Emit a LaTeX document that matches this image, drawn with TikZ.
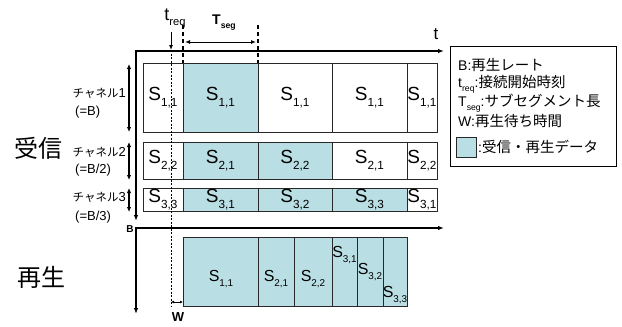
\documentclass[tikz,border=0pt]{standalone}
\usepackage{fontspec}
\usepackage{graphicx}
\setmainfont{Liberation Sans}
\newfontfamily\jp{Noto Sans CJK JP}
\usetikzlibrary{arrows.meta}
\definecolor{cellblue}{RGB}{185,222,228}
\definecolor{celledge}{RGB}{40,40,40}
\newcommand{\Ss}[1]{S\raisebox{-0.3em}{\scalebox{0.62}{#1}}}
\newcommand{\subx}[1]{\raisebox{-0.3em}{\scalebox{0.62}{#1}}}
\newcommand{\mkcell}[7]{\node[#1, minimum width={(#4-#3)*1pt}, minimum height={(#6-#5)*1pt}] (#2) at ({(#3+#4)/2},{(#5+#6)/2}) {#7};}
\newcommand{\kata}[1]{{\jp\fontsize{11.5}{12}\selectfont #1}}
\begin{document}
\begin{tikzpicture}[x=1pt,y=-1pt,
  wcell/.style={draw=celledge, line width=0.9pt, fill=white, inner sep=0pt, font=\fontsize{19}{19}\selectfont},
  bcell/.style={wcell, fill=cellblue},
  pcell/.style={draw=celledge, line width=0.9pt, fill=cellblue, inner sep=0pt},
  ptxt/.style={inner sep=0pt, font=\fontsize{16}{16}\selectfont},
  axis/.style={line width=1.5pt, -{Latex[length=6pt,width=4.5pt]}},
  chan/.style={line width=1.2pt, {Latex[length=5pt,width=4.5pt]}-{Latex[length=5pt,width=4.5pt]}},
  chtxt/.style={inner sep=0pt, font=\fontsize{13}{13}\selectfont},
  legtxt/.style={inner sep=0pt, anchor=west, font=\fontsize{14}{14}\selectfont},
]
\useasboundingbox (0,0) rectangle (622,327);

% axes
\coordinate (o1) at (136,51);
\coordinate (t1) at (444,51);
\coordinate (d1) at (136,221);
\coordinate (o2) at (136,228);
\coordinate (t2) at (444,228);
\coordinate (d2) at (136,314);
\draw[axis] (o1) -- (t1);
\draw[axis] ([yshift=0.75pt]o1) -- (d1);
\draw[axis] (o2) -- (t2);
\draw[axis] ([yshift=0.75pt]o2) -- (d2);
\node[inner sep=0pt, font=\fontsize{17}{17}\selectfont] (tlab) at (436,34) {t};
\node[inner sep=0pt, font=\bfseries\fontsize{10}{10}\selectfont] (blab) at (130,229) {B};

% row 1
\mkcell{wcell}{a1}{143}{183}{63}{132}{\Ss{1,1}}
\mkcell{bcell}{a2}{183}{258}{63}{132}{\Ss{1,1}}
\mkcell{wcell}{a3}{258}{332}{63}{132}{\Ss{1,1}}
\mkcell{wcell}{a4}{332}{407}{63}{132}{\Ss{1,1}}
\mkcell{wcell}{a5}{407}{437}{63}{132}{\Ss{1,1}}
% row 2
\mkcell{wcell}{b1}{143}{183}{142}{179}{\Ss{2,2}}
\mkcell{bcell}{b2}{183}{258}{142}{179}{\Ss{2,1}}
\mkcell{bcell}{b3}{258}{332}{142}{179}{\Ss{2,2}}
\mkcell{wcell}{b4}{332}{407}{142}{179}{\Ss{2,1}}
\mkcell{wcell}{b5}{407}{437}{142}{179}{\Ss{2,2}}
% row 3
\mkcell{wcell}{c1}{143}{183}{188}{211}{\Ss{3,3}}
\mkcell{bcell}{c2}{183}{258}{188}{211}{\Ss{3,1}}
\mkcell{bcell}{c3}{258}{332}{188}{211}{\Ss{3,2}}
\mkcell{bcell}{c4}{332}{407}{188}{211}{\Ss{3,3}}
\mkcell{wcell}{c5}{407}{437}{188}{211}{\Ss{3,1}}
% playback
\mkcell{pcell}{p1}{183}{258}{237}{306}{}
\mkcell{pcell}{p2}{258}{294}{237}{306}{}
\mkcell{pcell}{p3}{294}{332}{237}{306}{}
\mkcell{pcell}{p4}{332}{357}{237}{306}{}
\mkcell{pcell}{p5}{357}{383}{237}{306}{}
\mkcell{pcell}{p6}{383}{407}{237}{306}{}
\node[ptxt] (q1) at (221,279) {\Ss{1,1}};
\node[ptxt] (q2) at (276,279) {\Ss{2,1}};
\node[ptxt] (q3) at (313,279) {\Ss{2,2}};
\node[ptxt] (q4) at (344.5,255) {\Ss{3,1}};
\node[ptxt] (q5) at (370,272) {\Ss{3,2}};
\node[ptxt] (q6) at (395,295) {\Ss{3,3}};

% t_req
\node[inner sep=0pt, anchor=south, font=\fontsize{18}{18}\selectfont] (treq) at (175,28) {t\subx{req}};
\coordinate (treqtop) at (171,32);
\coordinate (treqax) at (171,50);
\coordinate (treqbot) at (171,306);
\draw[line width=0.9pt, -{Latex[length=5pt,width=4pt]}] (treqtop) -- (treqax);
\draw[line width=0.6pt, dashed, dash pattern=on 2pt off 1.5pt] (treqax) -- (treqbot);

% T_seg
\coordinate (sa) at (183,25);
\coordinate (sb) at (183,63);
\coordinate (sc) at (258,25);
\coordinate (sd) at (258,63);
\draw[line width=1.5pt, dash pattern=on 4pt off 3pt] (sa) -- (sb);
\draw[line width=1.5pt, dash pattern=on 4pt off 3pt] (sc) -- (sd);
\coordinate (sl) at (185,42);
\coordinate (sr) at (256,42);
\draw[line width=1pt, {Latex[length=5pt,width=4pt]}-{Latex[length=5pt,width=4pt]}] (sl) -- (sr);
\node[inner sep=0pt, font=\bfseries\fontsize{14}{14}\selectfont] (tseg) at (224,23) {T\subx{seg}};

% W
\coordinate (wl) at (171,302);
\coordinate (wr) at (183,302);
\draw[line width=0.7pt, {Latex[length=3pt,width=3pt]}-{Latex[length=3pt,width=3pt]}] (wl) -- (wr);
\node[inner sep=0pt, font=\bfseries\fontsize{13}{13}\selectfont] (wlab) at (178,317) {W};

% channel arrows
\coordinate (k1a) at (129,64);
\coordinate (k1b) at (129,132);
\coordinate (k2a) at (129,142);
\coordinate (k2b) at (129,180);
\coordinate (k3a) at (129,188);
\coordinate (k3b) at (129,212);
\draw[chan] (k1a) -- (k1b);
\draw[chan] (k2a) -- (k2b);
\draw[chan] (k3a) -- (k3b);
\node[chtxt, anchor=east] (ch1) at (126,93) {\kata{チャネル}1};
\node[chtxt, anchor=west] (ch1b) at (75,112) {(=B)};
\node[chtxt, anchor=east] (ch2) at (126,152) {\kata{チャネル}2};
\node[chtxt, anchor=west] (ch2b) at (75,170) {(=B/2)};
\node[chtxt, anchor=east] (ch3) at (126,197) {\kata{チャネル}3};
\node[chtxt, anchor=west] (ch3b) at (75,217) {(=B/3)};

\node[inner sep=0pt, font=\jp\fontsize{24}{24}\selectfont] (recv) at (38,148) {受信};
\node[inner sep=0pt, font=\jp\fontsize{24}{24}\selectfont] (play) at (41,277) {再生};

% legend
\node[draw, line width=0.8pt, minimum width=166pt, minimum height=120pt, inner sep=0pt] (legend) at (533,106) {};
\node[legtxt] (l1) at (458,65) {B:{\jp\fontsize{14.5}{14.5}\selectfont 再生レート}};
\node[legtxt] (l2) at (458,84) {t\subx{req}:{\jp\fontsize{14.5}{14.5}\selectfont 接続開始時刻}};
\node[legtxt] (l3) at (458,103) {T\subx{seg}:{\jp\fontsize{14.5}{14.5}\selectfont サブセグメント長}};
\node[legtxt] (l4) at (458,121) {W:{\jp\fontsize{14.5}{14.5}\selectfont 再生待ち時間}};
\node[draw=celledge, line width=0.8pt, fill=cellblue, minimum size=20pt, inner sep=0pt] (lsq) at (466,147) {};
\node[legtxt] (l5) at (478,147) {:{\jp\fontsize{14.5}{14.5}\selectfont 受信・再生データ}};
\end{tikzpicture}
\end{document}
